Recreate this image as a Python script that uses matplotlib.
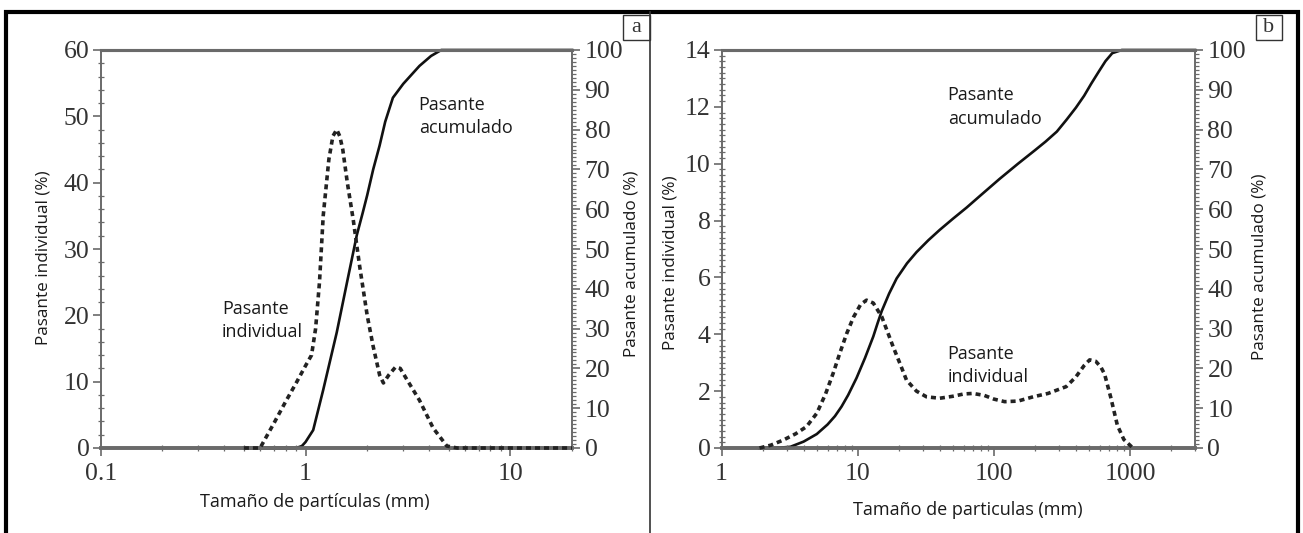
import matplotlib
matplotlib.use('Agg')
import matplotlib.pyplot as plt
from matplotlib.ticker import FixedLocator, MultipleLocator, LogLocator, NullFormatter, FixedFormatter
from matplotlib.patches import Rectangle
from matplotlib.lines import Line2D

# datos panel a (tamaño en mm, %)
a_ind_x = [0.5, 0.6, 0.7, 0.8, 0.9, 1.0, 1.07, 1.12, 1.17, 1.22, 1.3, 1.36, 1.42, 1.47, 1.52,
           1.6, 1.71, 1.84, 2.0, 2.14, 2.3, 2.4, 2.55, 2.75, 2.9, 3.1, 3.6, 4.2, 4.9, 5.5, 10, 20]
a_ind = [0, 0, 3.7, 7, 9.8, 12.4, 14, 18, 25, 35, 43.5, 47, 48, 47, 45,
         40, 34.4, 27.3, 20, 15.3, 11, 9.8, 11, 12.2, 12, 10.5, 7.2, 3, 0.3, 0, 0, 0]
a_acu_x = [0.5, 0.7, 0.9, 0.96, 1.0, 1.09, 1.22, 1.42, 1.6, 1.78, 1.9, 2.0, 2.14, 2.3, 2.45,
           2.67, 3.0, 3.6, 4.1, 4.6, 10, 20]
a_acu = [0, 0, 0, 0.5, 1.5, 4.5, 14.6, 29, 42, 53.5, 59, 63.5, 70, 76, 82,
         88, 91.5, 96, 98.5, 100, 100, 100]

# datos panel b
b_ind_x = [1.9, 2.3, 2.84, 3.5, 4.2, 5, 5.8, 6.6, 7.4, 8.3, 9.3, 10.5, 11.6, 13, 15, 16.5,
           18.2, 20.5, 22.8, 27, 32, 40, 50, 60, 70, 85, 100, 120, 150, 194, 250, 340,
           400, 460, 505, 560, 610, 650, 720, 807, 900, 1050]
b_ind = [0, 0.1, 0.28, 0.5, 0.75, 1.22, 1.9, 2.63, 3.35, 4.03, 4.6, 5.05, 5.2, 5.1, 4.62, 4.1,
         3.56, 2.95, 2.39, 2.0, 1.8, 1.75, 1.82, 1.9, 1.92, 1.85, 1.72, 1.63, 1.65, 1.8, 1.92, 2.16,
         2.5, 2.9, 3.1, 3.05, 2.85, 2.6, 1.8, 0.8, 0.3, 0]
b_acu_x = [1.9, 2.5, 3.2, 4, 5, 6, 6.8, 7.6, 8.5, 9.8, 11.3, 13, 14, 15, 17, 19.3, 23, 27, 33, 40,
           50, 63, 80, 110, 150, 200, 240, 290, 342, 400, 460, 520, 590, 660, 740, 870, 1000, 3000]
b_acu = [0, 0, 0.3, 1.6, 3.5, 5.9, 8.0, 10.4, 13.3, 17.6, 22.6, 28, 31.4, 34.4, 38.8, 42.6, 46.4,
         49.2, 52.2, 54.8, 57.6, 60.4, 63.5, 67.6, 71.4, 74.8, 77, 79.5, 82.5, 85.5, 88.5, 91.6,
         94.6, 97.2, 99.2, 100, 100, 100]

W, H = 1303, 533
serif = 'Liberation Serif'
sans = 'Open Sans'
gris = '#6a6a6a'

fig = plt.figure(figsize=(W / 100, H / 100), dpi=100)


def px(x0, x1, y0, y1):
    return [x0 / W, 1 - y1 / H, (x1 - x0) / W, (y1 - y0) / H]


def panel(rect, xlim, xt, xtl, ylim, ymaj, ymin, x_ind, y_ind, x_acu, y_acu):
    ax = fig.add_axes(rect)
    ax.set_xscale('log')
    ax.set_xlim(*xlim)
    ax.set_ylim(*ylim)
    ax.plot(x_ind, y_ind, color='#222222', lw=2.6, linestyle=(0, (1.4, 1.1)),
            clip_on=False, zorder=3)
    ax2 = ax.twinx()
    ax2.set_ylim(0, 100)
    ax2.plot(x_acu, y_acu, color='#111111', lw=1.9, clip_on=False, zorder=3)

    ax.xaxis.set_major_locator(FixedLocator(xt))
    ax.xaxis.set_major_formatter(FixedFormatter(xtl))
    ax.xaxis.set_minor_locator(LogLocator(base=10, subs=range(2, 10)))
    ax.xaxis.set_minor_formatter(NullFormatter())
    ax.yaxis.set_major_locator(MultipleLocator(ymaj))
    ax.yaxis.set_minor_locator(MultipleLocator(ymin))
    ax2.yaxis.set_major_locator(MultipleLocator(10))
    ax2.yaxis.set_minor_locator(MultipleLocator(1))

    for a in (ax, ax2):
        a.tick_params(which='major', direction='out', length=6, width=1.2, color=gris,
                      labelsize=18.5, labelcolor='#333333')
        a.tick_params(which='minor', direction='inout', length=4, width=0.9, color=gris)
        for lab in a.get_xticklabels() + a.get_yticklabels():
            lab.set_fontfamily(serif)
        for s in a.spines.values():
            s.set_color(gris)
            s.set_linewidth(1.2)
        a.spines['top'].set_linewidth(2.2)
        a.spines['bottom'].set_linewidth(2.6)
    ax.tick_params(axis='x', which='major', pad=5)
    ax.tick_params(axis='y', which='major', pad=2)
    ax2.tick_params(axis='y', which='major', pad=3)
    ax2.tick_params(axis='y', which='minor', direction='out', length=3)
    ax.set_zorder(ax2.get_zorder() + 1)
    ax.patch.set_visible(False)
    return ax, ax2


axa, axa2 = panel(px(100.7, 572, 50, 448), (0.1, 20), [0.1, 1, 10], ['0.1', '1', '10'],
                  (0, 60), 10, 2, a_ind_x, a_ind, a_acu_x, a_acu)
axb, axb2 = panel(px(721.6, 1195, 50, 448), (1, 3000), [1, 10, 100, 1000],
                  ['1', '10', '100', '1000'], (0, 14), 2, 0.2, b_ind_x, b_ind, b_acu_x, b_acu)

tk = dict(fontfamily=sans, fontsize=13, color='#1a1a1a', linespacing=1.4, va='center', ha='left')
axa.text(3.57, 50.0, 'Pasante\nacumulado', **tk)
axa.text(0.391, 19.2, 'Pasante\nindividual', **tk)
axb.text(45.8, 12.0, 'Pasante\nacumulado', **tk)
axb.text(45.8, 2.9, 'Pasante\nindividual', **tk)

lk = dict(fontfamily=sans, fontsize=12.3, color='#1a1a1a', ha='center', va='center')
xk = dict(lk, fontsize=13)
fig.text(44 / W, 1 - 258 / H, 'Pasante individual (%)', rotation=90, **lk)
fig.text(631 / W, 1 - 264 / H, 'Pasante acumulado (%)', rotation=90, **lk)
fig.text(315 / W, 1 - 502 / H, 'Tamaño de partículas (mm)', **xk)
fig.text(671 / W, 1 - 263 / H, 'Pasante individual (%)', rotation=90, **lk)
fig.text(1259 / W, 1 - 267 / H, 'Pasante acumulado (%)', rotation=90, **lk)
fig.text(968 / W, 1 - 510 / H, 'Tamaño de particulas (mm)', **xk)

# marco general y separador
fig.add_artist(Rectangle((6 / W, -0.05), (1298 - 6) / W, 1.05 - 12 / H, transform=fig.transFigure,
                         fill=False, edgecolor='black', linewidth=3))
fig.add_artist(Line2D([650 / W, 650 / W], [0, 1 - 12 / H], transform=fig.transFigure,
                      color='#333333', linewidth=1.2))

# etiquetas a / b
for x0, x1, t in [(623, 650, 'a'), (1256, 1282, 'b')]:
    fig.add_artist(Rectangle((x0 / W, 1 - 40 / H), (x1 - x0) / W, 25 / H, transform=fig.transFigure,
                             fill=False, edgecolor='#333333', linewidth=1.0))
    fig.text((x0 + x1) / 2 / W, 1 - 27 / H, t, fontfamily=serif, fontsize=16, color='#333333',
             ha='center', va='center')

fig.savefig('out.png', dpi=100, facecolor='white')
